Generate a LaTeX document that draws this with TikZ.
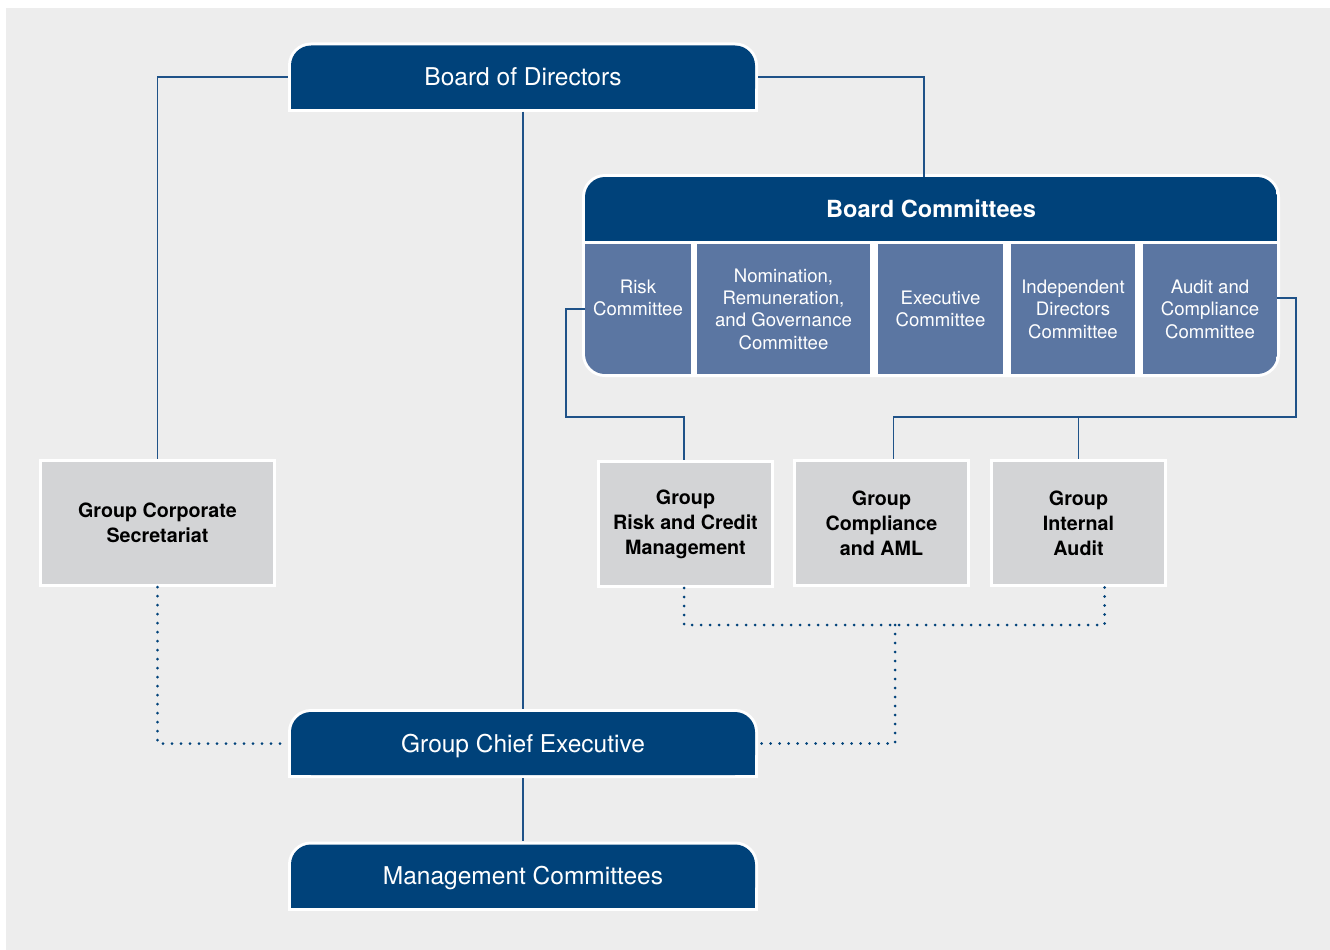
\documentclass[tikz,border=0pt]{standalone}
\usepackage{fontspec}
\setmainfont{TeX Gyre Heros}
\definecolor{darkblue}{HTML}{00427A}
\definecolor{cellblue}{HTML}{5B76A2}
\definecolor{boxgrey}{HTML}{D3D4D6}
\definecolor{bggrey}{HTML}{EDEDED}
\definecolor{linkblue}{HTML}{1F5288}
\begin{document}
\begin{tikzpicture}[x=1pt,y=-1pt,
    tab/.style={minimum width=470pt,minimum height=69pt,inner sep=0pt,text=white,
        text height=17.6pt,text depth=0pt,font=\fontsize{24.5}{29}\selectfont,
        path picture={
            \fill[white,rounded corners=23pt] (path picture bounding box.south west) rectangle (path picture bounding box.north east);
            \fill[white] (path picture bounding box.south west) rectangle (path picture bounding box.east);
            \fill[darkblue,rounded corners=20pt] ([xshift=3pt,yshift=3pt]path picture bounding box.south west) rectangle ([xshift=-3pt,yshift=-3pt]path picture bounding box.north east);
            \fill[darkblue] ([xshift=3pt,yshift=3pt]path picture bounding box.south west) rectangle ([xshift=-3pt]path picture bounding box.east);
        }},
    cell/.style={fill=cellblue,text=white,align=center,minimum height=130pt,inner sep=0pt,
        font=\fontsize{18.6}{22.4}\selectfont},
    unit/.style={draw=white,line width=3pt,fill=boxgrey,align=center,minimum width=174pt,
        minimum height=125pt,inner sep=0pt,font=\fontsize{19.7}{25}\selectfont\bfseries},
    link/.style={draw=linkblue,line width=1.5pt},
    dotlink/.style={draw=darkblue,line width=3pt,line cap=round,dash pattern=on 0pt off 9pt}]

    % Background
    \useasboundingbox (0,0) rectangle (1330,950);
    \fill[white] (0,0) rectangle (1330,950);
    \fill[bggrey] (6,8) rectangle (1330,950);

    % Board and executive
    \node[tab] (bod) at (523,77) {Board of Directors};
    \node[tab] (gce) at (523,743.5) {Group Chief Executive};
    \node[tab] (mgmt) at (523,876) {Management Committees};

    % Board committees
    \fill[white,rounded corners=23pt] (582,174) rectangle (1280,377);
    \begin{scope}
        \clip[rounded corners=20pt] (585,177) rectangle (1277,374);
        \node[fill=darkblue,text=white,minimum width=692pt,minimum height=64pt,inner sep=0pt,
            text height=17pt,text depth=0pt,
            font=\fontsize{23.6}{28}\selectfont\bfseries] (bcom) at (931,209) {Board Committees};
        \node[cell,minimum width=106pt] (risk) at (638,309) {Risk\\Committee\\\mbox{}};
        \node[cell,minimum width=173pt] (nomrem) at (783.5,309) {Nomination,\\Remuneration,\\and Governance\\Committee};
        \node[cell,minimum width=125pt] (exec) at (940.5,309) {Executive\\Committee};
        \node[cell,minimum width=124pt] (indep) at (1073,309) {Independent\\Directors\\Committee};
        \node[cell,minimum width=134pt] (audit) at (1210,309) {Audit and\\Compliance\\Committee};
    \end{scope}

    % Group functions
    \node[unit,minimum width=234pt] (gcs) at (157.5,523) {Group Corporate\\Secretariat};
    \node[unit] (grcm) at (685.5,524) {Group\\Risk and Credit\\Management};
    \node[unit] (gcaml) at (881.5,523) {Group\\Compliance\\and AML};
    \node[unit] (gia) at (1078.5,523) {Group\\Internal\\Audit};

    % Reporting lines
    \draw[link] (bod.west) -| (gcs.north);
    \draw[link] (bod.east) -| ([xshift=-7pt]bcom.north);
    \draw[link] (bod.south) -- (gce.north);
    \draw[link] (gce.south) -- (mgmt.north);
    \draw[link] (risk.west) -| (566,417) -| ([xshift=-1.5pt]grcm.north);
    \coordinate (abus) at (1078.5,417);
    \draw[link] ([yshift=11pt]audit.east) -| (1296,417) -| ([xshift=12pt]gcaml.north);
    \draw[link] (abus) -- (gia.north);

    % Dotted lines
    \coordinate (dbus) at (895,625);
    \draw[dotlink] (gcs.south) |- (gce.west);
    \draw[dotlink] ([xshift=-1.5pt]grcm.south) |- (dbus) -| ([xshift=26pt]gia.south);
    \draw[dotlink] (dbus) |- (gce.east);
\end{tikzpicture}
\end{document}
